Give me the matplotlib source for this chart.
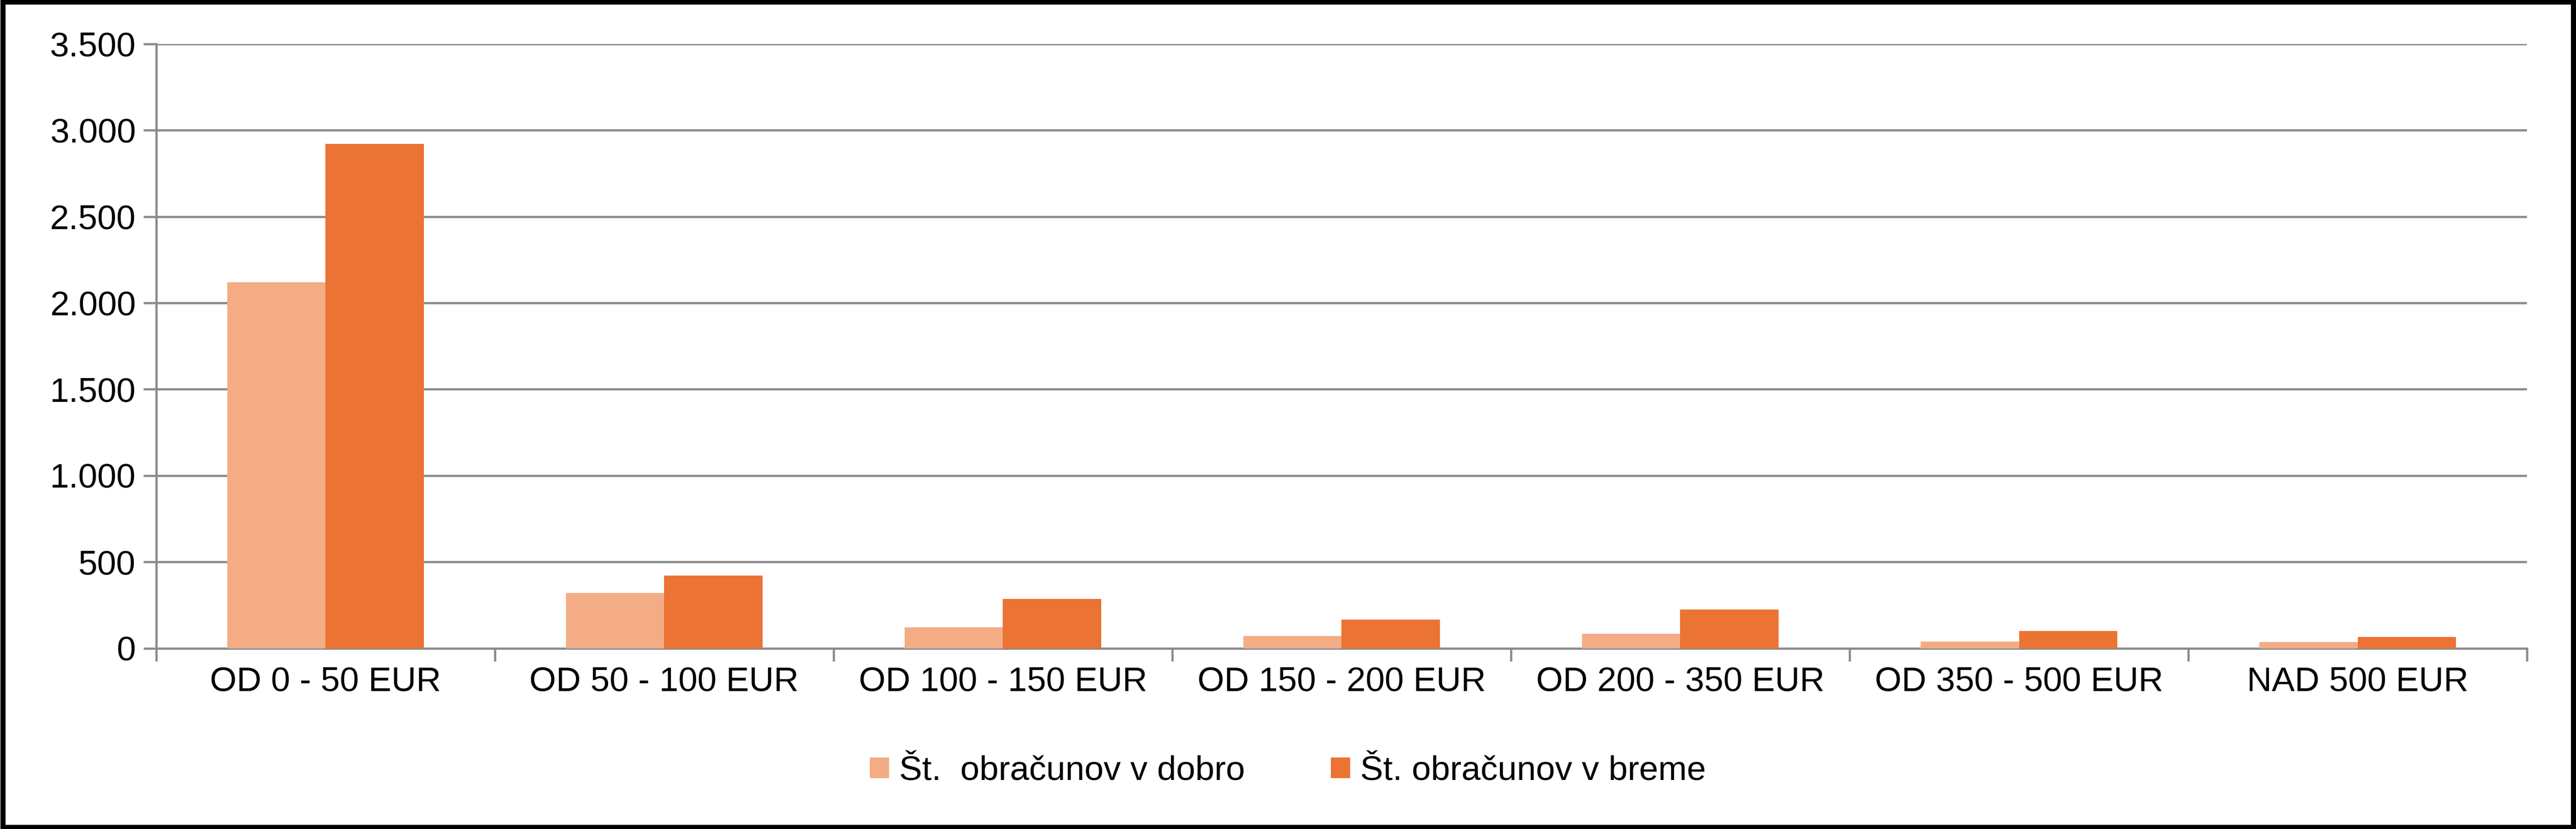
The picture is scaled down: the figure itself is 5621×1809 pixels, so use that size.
import matplotlib
matplotlib.use("Agg")
import matplotlib.pyplot as plt
import numpy as np
from matplotlib.ticker import FuncFormatter, FixedLocator

categories = ["OD 0 - 50 EUR", "OD 50 - 100 EUR", "OD 100 - 150 EUR", "OD 150 - 200 EUR",
              "OD 200 - 350 EUR", "OD 350 - 500 EUR", "NAD 500 EUR"]
dobro = [2120, 320, 120, 70, 85, 40, 35]
breme = [2920, 420, 285, 165, 225, 100, 65]
series_names = ["Št.  obračunov v dobro", "Št. obračunov v breme"]

plt.rcParams['font.family'] = ['Liberation Sans', 'DejaVu Sans']
fig = plt.figure(figsize=(56.21, 18.09), dpi=100)
ax = fig.add_axes([0.0606, 0.218, 0.9204, 0.729])
x = np.arange(len(categories))
w = 0.29
ax.bar(x - w/2, dobro, w, color="#F4AC84", label=series_names[0], zorder=3)
ax.bar(x + w/2, breme, w, color="#EB7333", label=series_names[1], zorder=3)
ax.set_xlim(-0.5, len(categories) - 0.5)
ax.set_ylim(0, 3500)
ax.set_yticks(np.arange(0, 3501, 500))
ax.yaxis.set_major_formatter(FuncFormatter(lambda v, p: f"{int(v):,}".replace(",", ".")))
ax.yaxis.grid(True, color="#8C8C8C", linewidth=3.5, zorder=0)
ax.set_xticks(x)
ax.set_xticklabels(categories)
ax.xaxis.set_minor_locator(FixedLocator(np.arange(-0.5, len(categories), 1)))
ax.tick_params(axis='x', which='major', length=0, pad=28, labelsize=54)
ax.tick_params(axis='x', which='minor', length=20, width=3.5, color="#8C8C8C")
ax.tick_params(axis='y', length=20, width=3.5, color="#8C8C8C", labelsize=54, pad=12)
for s in ["top", "right"]:
    ax.spines[s].set_visible(False)
for s in ["left", "bottom"]:
    ax.spines[s].set_color("#8C8C8C")
    ax.spines[s].set_linewidth(3.5)
fig.legend(loc="center", bbox_to_anchor=(0.5, 0.07), ncol=2, frameon=False,
           fontsize=54, handlelength=0.55, handleheight=0.55, columnspacing=2.5, handletextpad=0.3)
fig.patches.append(plt.Rectangle((0.001, 0.002), 0.998, 0.996, transform=fig.transFigure,
                                 fill=False, edgecolor="black", linewidth=8))
fig.savefig("out.png", dpi=100)
